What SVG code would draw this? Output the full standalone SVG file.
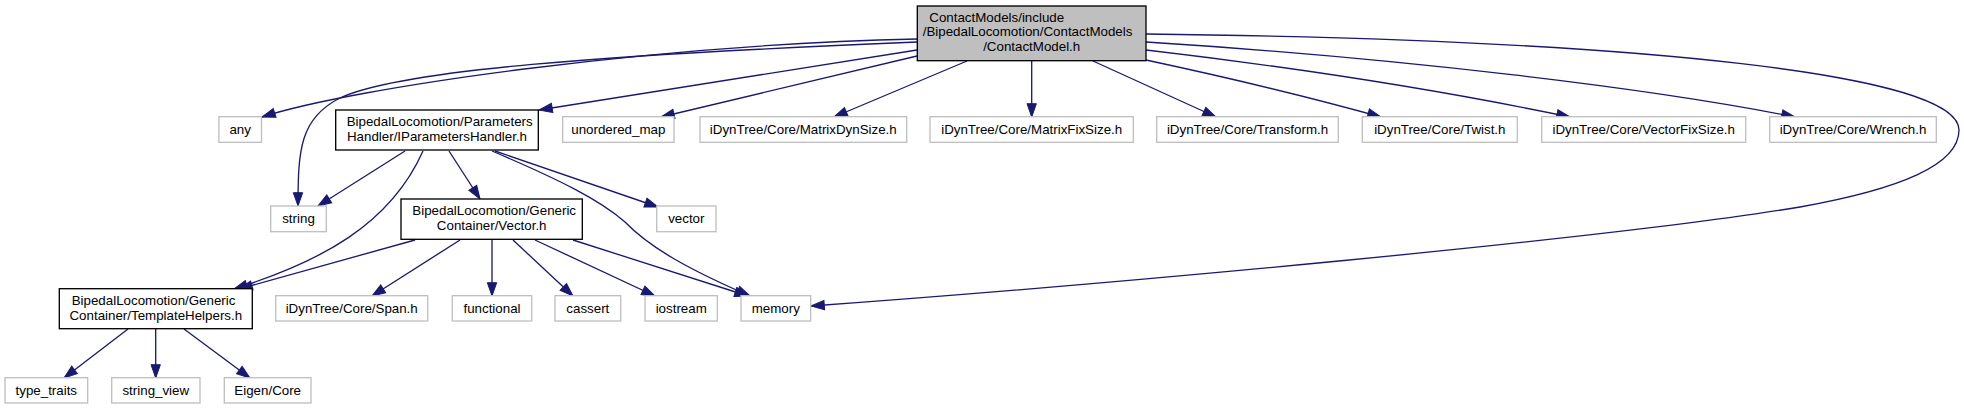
<svg xmlns="http://www.w3.org/2000/svg" width="1964" height="409" viewBox="0 0 1964 409">
<defs>
<style>
.n rect{fill:#ffffff;stroke:#bfbfbf;stroke-width:1.33}
.n.k rect{stroke:#000000}
.n.top rect{fill:#bfbfbf;stroke:#000000}
text{font-family:"Liberation Sans",Arial,sans-serif;font-size:13.33px;fill:#000000}
.m{text-anchor:middle}
.s{text-anchor:start}
#edges path{fill:none;stroke:#191970;stroke-width:1.33;marker-end:url(#ah)}
</style>
<marker id="ah" markerWidth="16" markerHeight="12" refX="13.3" refY="4.67" orient="auto" markerUnits="userSpaceOnUse" style="overflow:visible">
<path d="M0,0 L13.3,4.67 L0,9.33 z" fill="#191970" stroke="#191970" stroke-width="1"/>
</marker>
</defs>
<rect x="0" y="0" width="1964" height="409" fill="#ffffff"/>
<g id="edges">
<path d="M917,39 C650,45 355,87 262,117"/>
<path d="M917,42 C600,55 400,70 340,98 C300,118 298,150 298,206"/>
<path d="M917,50 L539,110"/>
<path d="M917,56 L661,117"/>
<path d="M967,61 L834,117"/>
<path d="M1031.7,61 L1031.7,117"/>
<path d="M1093,61 L1216,117"/>
<path d="M1146,60 C1230,78 1320,100 1381,117"/>
<path d="M1146,50 C1300,68 1450,92 1570,117"/>
<path d="M1146,42 C1400,58 1650,88 1795,117"/>
<path d="M1146,34 C1650,40 1959,75 1959,130 C1959,165 1900,189 1800,207 C1600,240 1100,285 811,306"/>
<path d="M405,151 L318,206"/>
<path d="M423,151 C390,225 320,262 234,289"/>
<path d="M449,151 L480,199"/>
<path d="M495,151 L658,207"/>
<path d="M492,151 C560,180 600,200 625,222 C650,248 690,270 750,296"/>
<path d="M415,240 L239,289"/>
<path d="M460,240 L372,296"/>
<path d="M492,240 L492,296"/>
<path d="M513,240 L573,296"/>
<path d="M535,240 L655,296"/>
<path d="M573,240 L748,296"/>
<path d="M128,329 L64,378"/>
<path d="M155.7,329 L155.7,378"/>
<path d="M184,329 L250,378"/>
</g>
<g id="node_contactmodel" class="n top">
<rect x="917.3" y="6" width="228.7" height="54.7"/>
<text class="s" x="929.3" y="21.5">ContactModels/include</text>
<text class="s" x="922.7" y="36.2">/BipedalLocomotion/ContactModels</text>
<text class="m" x="1031.7" y="50.9">/ContactModel.h</text>
</g>
<g id="node_any" class="n"><rect x="218.9" y="116.7" width="42.6" height="25.6"/><text class="m" x="240.2" y="134">any</text></g>
<g id="node_iparametershandler" class="n k">
<rect x="335.7" y="110" width="202.6" height="40"/>
<text class="s" x="346.7" y="126.2">BipedalLocomotion/Parameters</text>
<text class="m" x="437" y="140.9">Handler/IParametersHandler.h</text>
</g>
<g id="node_unordered_map" class="n"><rect x="562.7" y="116.7" width="111.3" height="25.6"/><text class="m" x="618.3" y="134">unordered_map</text></g>
<g id="node_matrixdynsize" class="n"><rect x="700" y="116.7" width="206.7" height="25.6"/><text class="m" x="803.3" y="134">iDynTree/Core/MatrixDynSize.h</text></g>
<g id="node_matrixfixsize" class="n"><rect x="930" y="116.7" width="203.3" height="25.6"/><text class="m" x="1031.7" y="134">iDynTree/Core/MatrixFixSize.h</text></g>
<g id="node_transform" class="n"><rect x="1156.7" y="116.7" width="181.6" height="25.6"/><text class="m" x="1247.5" y="134">iDynTree/Core/Transform.h</text></g>
<g id="node_twist" class="n"><rect x="1362.3" y="116.7" width="155" height="25.6"/><text class="m" x="1439.8" y="134">iDynTree/Core/Twist.h</text></g>
<g id="node_vectorfixsize" class="n"><rect x="1541.7" y="116.7" width="204" height="25.6"/><text class="m" x="1643.7" y="134">iDynTree/Core/VectorFixSize.h</text></g>
<g id="node_wrench" class="n"><rect x="1769.7" y="116.7" width="166.6" height="25.6"/><text class="m" x="1853" y="134">iDynTree/Core/Wrench.h</text></g>
<g id="node_string" class="n"><rect x="270.7" y="206" width="55.6" height="25.7"/><text class="m" x="298.5" y="223.3">string</text></g>
<g id="node_vector_h" class="n k">
<rect x="401" y="199" width="181.3" height="40.3"/>
<text class="s" x="412.3" y="215">BipedalLocomotion/Generic</text>
<text class="m" x="491.7" y="229.7">Container/Vector.h</text>
</g>
<g id="node_vector" class="n"><rect x="656.7" y="206" width="59.3" height="25.7"/><text class="m" x="686.3" y="223.3">vector</text></g>
<g id="node_templatehelpers" class="n k">
<rect x="59.3" y="288.7" width="193" height="40"/>
<text class="s" x="71.7" y="305">BipedalLocomotion/Generic</text>
<text class="m" x="155.8" y="319.7">Container/TemplateHelpers.h</text>
</g>
<g id="node_span" class="n"><rect x="275.7" y="295.7" width="152" height="25.3"/><text class="m" x="351.7" y="312.8">iDynTree/Core/Span.h</text></g>
<g id="node_functional" class="n"><rect x="452.3" y="295.7" width="79.4" height="25.3"/><text class="m" x="492" y="312.8">functional</text></g>
<g id="node_cassert" class="n"><rect x="555" y="295.7" width="65.7" height="25.3"/><text class="m" x="587.8" y="312.8">cassert</text></g>
<g id="node_iostream" class="n"><rect x="645" y="295.7" width="72.3" height="25.3"/><text class="m" x="681.2" y="312.8">iostream</text></g>
<g id="node_memory" class="n"><rect x="741" y="295.7" width="69.7" height="25.3"/><text class="m" x="775.8" y="312.8">memory</text></g>
<g id="node_type_traits" class="n"><rect x="5" y="377.7" width="82.7" height="25.3"/><text class="m" x="46.3" y="394.8">type_traits</text></g>
<g id="node_string_view" class="n"><rect x="111.7" y="377.7" width="88.3" height="25.3"/><text class="m" x="155.8" y="394.8">string_view</text></g>
<g id="node_eigen_core" class="n"><rect x="224.3" y="377.7" width="86.7" height="25.3"/><text class="m" x="267.7" y="394.8">Eigen/Core</text></g>
</svg>
